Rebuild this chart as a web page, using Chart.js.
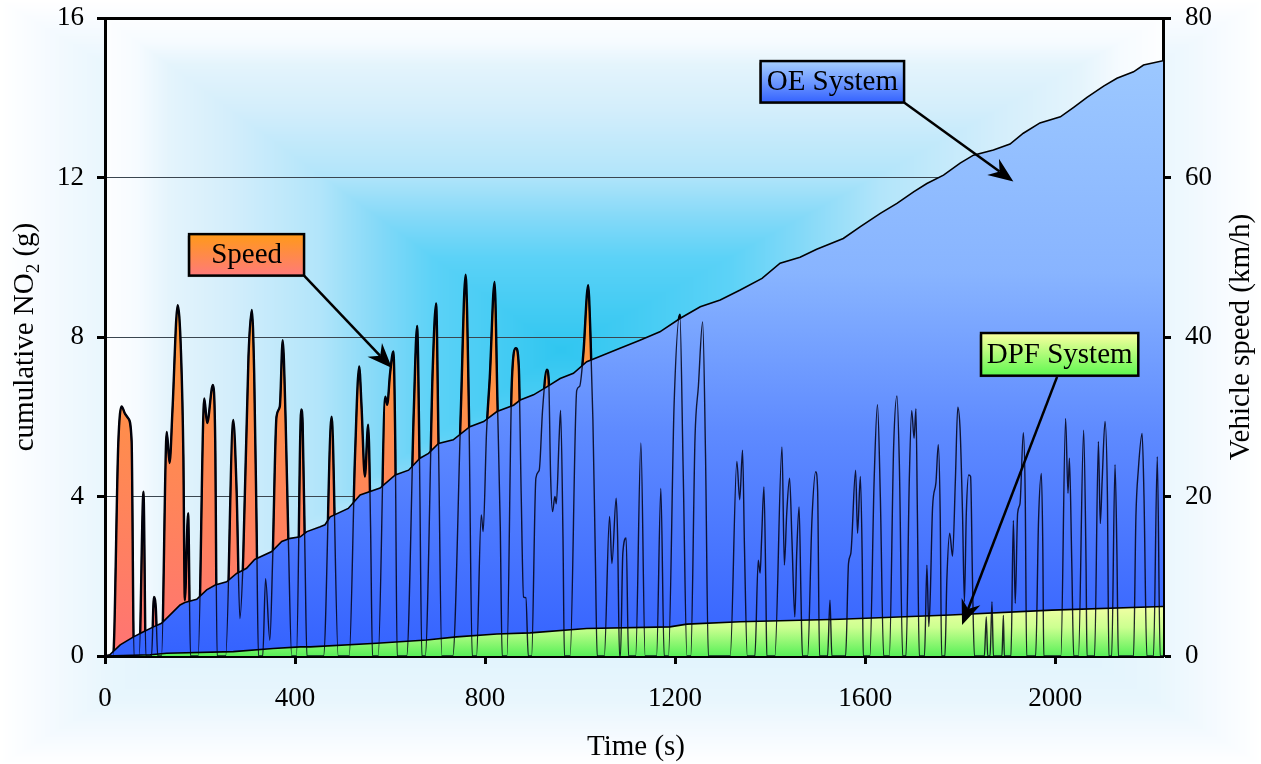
<!DOCTYPE html>
<html>
<head>
<meta charset="utf-8">
<title>Cumulative NO2</title>
<script src="https://cdn.jsdelivr.net/npm/chart.js@4"></script>
<style>
  html, body { margin: 0; padding: 0; background: #fff; }
  #wrap { width: 1261px; height: 764px; position: relative; }
</style>
</head>
<body>
<div id="wrap"><canvas id="no2Chart" width="1261" height="764"></canvas></div>
<script>
// axis ticks
const timeTicks = [0, 400, 800, 1200, 1600, 2000];
const no2Ticks = [0, 4, 8, 12, 16];
const speedTicks = [0, 20, 40, 60, 80];

// vehicle speed trace (s, km/h)
const speedTime = [0, 17, 28, 35, 42, 49, 56, 61, 72, 81, 86, 98, 103, 107, 111, 119, 130, 136, 142, 153, 160, 165, 168, 175, 180,
  196, 209, 215, 227, 232, 236, 254, 270, 277, 284, 291, 302, 309, 314, 319, 323, 332, 338, 347, 353, 361, 368, 374, 380, 386, 393,
  403, 413, 416, 421, 425, 460, 477, 491, 514, 526, 535, 540, 547, 554, 559, 563, 575, 590, 594, 600, 607, 611, 615,
  635, 650, 657, 662, 667, 674, 690, 697, 702, 709, 732, 749, 759, 766, 773, 782, 792, 796, 803, 810, 820, 826, 832, 836,
  846, 856, 865, 871, 876, 881, 886, 891, 898, 907, 914, 921, 930, 934, 938, 942, 947, 950, 956, 959, 964, 967,
  979, 993, 999, 1007, 1017, 1022, 1027, 1032, 1036, 1051, 1062, 1067, 1076, 1079, 1083, 1085, 1090, 1097, 1102,
  1117, 1128, 1137, 1161, 1170, 1177, 1186, 1198, 1210, 1217, 1225, 1233, 1242, 1249, 1258, 1264, 1270,
  1316, 1330, 1336, 1342, 1346, 1352, 1368, 1375, 1379, 1382, 1387, 1391, 1393,
  1410, 1425, 1430, 1435, 1441, 1446, 1452, 1456, 1461, 1465, 1468, 1479, 1488, 1496, 1500, 1504, 1521, 1526, 1530,
  1559, 1565, 1570, 1580, 1584, 1590, 1594, 1596, 1610, 1619, 1626, 1632, 1639, 1651, 1660, 1667, 1672, 1679,
  1686, 1693, 1698, 1703, 1707, 1710, 1714, 1725, 1730, 1734, 1737, 1742, 1749, 1754, 1758, 1761,
  1768, 1772, 1778, 1784, 1790, 1795, 1800, 1805, 1809, 1813, 1818, 1822, 1826, 1830,
  1851, 1855, 1858, 1863, 1867, 1870, 1888, 1891, 1893, 1907, 1912, 1916, 1921, 1926, 1933, 1937, 1940,
  1959, 1965, 1971, 1974, 1976, 2012, 2022, 2027, 2030, 2035, 2039, 2049, 2060, 2065, 2067,
  2083, 2091, 2095, 2099, 2105, 2110, 2113, 2119, 2126, 2130, 2133, 2165, 2170, 2175, 2183, 2187, 2193, 2207, 2215, 2221, 2227];
const speedKmh = [0, 0, 26.7, 31.3, 30.4, 29.8, 27, 0, 0, 20.6, 0, 0, 7.4, 6.0, 0, 0, 28.1, 24.2, 30.8, 44.0, 38, 25, 7.0, 17.9, 0,
  0, 32.3, 29.2, 34.0, 27, 0, 0, 29.6, 20.8, 4.7, 12.5, 37.5, 43.4, 35.5, 16.7, 0, 0, 9.7, 2.0, 12.4, 30, 31.3, 39.6, 30, 14.5, 0,
  0, 30.9, 29.2, 12.4, 0, 0, 30.0, 0, 0, 24.6, 36.3, 31.3, 22.5, 29.0, 16.2, 0, 0, 32.5, 31.5, 35.4, 38.2, 26.7, 0,
  0, 30.8, 41.4, 24.6, 0, 0, 36.3, 44.2, 26.7, 0, 0, 30.8, 47.8, 30.8, 0, 0, 17.7, 15.6, 27.9, 35.0, 46.9, 32.1, 16.2, 0,
  0, 33.8, 38.6, 36.3, 20.4, 7.4, 7.3, 0, 0, 22.3, 23.3, 30.8, 35.9, 34.6, 22.5, 18.1, 20, 19.1, 27.5, 30.8, 15, 0,
  0, 33.3, 33.8, 38, 46.5, 40, 29.6, 12.9, 0, 0, 17.5, 11.6, 19.8, 15, 0, 0, 12.9, 14.8, 0,
  0, 26.7, 0, 0, 21.0, 0, 0, 31.7, 42.8, 23.3, 0, 0, 27.5, 33.8, 41.9, 25.4, 0,
  0, 24.4, 19.6, 25.8, 13.7, 0, 0, 12.0, 10.4, 14.5, 21.2, 8.7, 0,
  0, 26.2, 11.4, 17.9, 22.3, 14.5, 4.9, 12.9, 18.7, 7.4, 0, 0, 17.0, 23.1, 20.8, 0, 0, 7.0, 0,
  0, 11.6, 12.9, 23.3, 15.4, 22.5, 11.6, 0, 0, 22.1, 31.5, 20, 0, 0, 26.2, 32.6, 24.2, 0,
  0, 22.1, 30.8, 27.3, 31.0, 17.9, 0, 0, 11.4, 3.7, 7.4, 18.7, 21.7, 26.5, 17.9, 0,
  0, 9.5, 15.4, 12.5, 22.1, 31.2, 28.3, 17.9, 6.8, 17.9, 22.7, 22.5, 9.5, 0,
  0, 4.9, 0, 0, 6.8, 0, 0, 5.1, 0, 0, 17.0, 6.6, 17.9, 19.1, 28, 20, 0,
  0, 17, 22.9, 13.7, 0, 0, 29.8, 20.4, 24.8, 11.6, 0, 0, 28.3, 11.6, 0,
  0, 26.9, 16.6, 22.1, 29.4, 20, 0, 0, 24, 12.9, 0, 0, 17.5, 23.3, 27.9, 20, 0, 0, 25, 0, 0];

// cumulative NO2, OE system (s, g)
const oeTime = [0, 10, 32, 60, 81, 102, 119, 137, 158, 168, 193, 214, 232, 256, 277, 298, 315, 351, 372, 390, 411, 425, 453, 463, 474,
  512, 537, 579, 611, 639, 663, 681, 702, 733, 768, 797, 825, 860, 874, 902, 930, 958, 986, 1014, 1049, 1084, 1126, 1168,
  1211, 1253, 1295, 1337, 1383, 1421, 1463, 1498, 1554, 1590, 1632, 1667, 1702, 1730, 1765, 1800, 1828, 1870, 1905, 1933,
  1968, 2011, 2039, 2067, 2102, 2130, 2165, 2186, 2227];
const oeNO2 = [0, 0.03, 0.28, 0.48, 0.61, 0.73, 0.82, 1.03, 1.28, 1.34, 1.42, 1.66, 1.78, 1.86, 2.07, 2.20, 2.42, 2.62, 2.87, 2.95, 2.99, 3.12, 3.24, 3.29, 3.49,
  3.70, 4.04, 4.21, 4.54, 4.66, 4.96, 5.08, 5.33, 5.42, 5.75, 5.88, 6.13, 6.29, 6.42, 6.55, 6.75, 6.96, 7.09, 7.38, 7.55, 7.72, 7.92, 8.13,
  8.47, 8.76, 8.93, 9.18, 9.47, 9.85, 10.0, 10.2, 10.47, 10.77, 11.10, 11.35, 11.64, 11.85, 12.06, 12.36, 12.56, 12.69, 12.84, 13.11,
  13.37, 13.52, 13.76, 14.01, 14.29, 14.49, 14.65, 14.82, 14.93];

// cumulative NO2, DPF system (s, g)
const dpfTime = [0, 95, 130, 270, 354, 411, 432, 572, 677, 740, 825, 895, 1014, 1189, 1225, 1337, 1547, 1779, 1993, 2227];
const dpfNO2 = [0, 0.03, 0.07, 0.11, 0.19, 0.23, 0.23, 0.32, 0.40, 0.48, 0.55, 0.58, 0.69, 0.73, 0.80, 0.86, 0.92, 1.03, 1.15, 1.24];

const serif = "'Liberation Serif', 'Times New Roman', serif";
const pairs = (xs, ys) => xs.map((x, i) => ({ x, y: ys[i] }));

// colour ramps: 0 = edge of the rectangle, 1 = its bright middle
const outerRamp = [[0, [255, 255, 255]], [0.06, [247, 251, 255]], [0.17, [232, 246, 253]], [0.5, [214, 240, 252]], [1, [190, 232, 250]]];
const innerRamp = [[0, [253, 254, 255]], [0.07, [246, 251, 255]], [0.14, [228, 244, 252]], [0.27, [212, 238, 251]], [0.47, [178, 229, 250]], [0.6, [132, 217, 248]], [0.72, [92, 210, 247]], [1, [48, 198, 240]]];

const rampColor = (stops, s) => {
  for (let k = 1; k < stops.length; k++) {
    if (s <= stops[k][0]) {
      const [s0, c0] = stops[k - 1], [s1, c1] = stops[k];
      const f = (s - s0) / (s1 - s0);
      return c0.map((v, j) => v + (c1[j] - v) * f);
    }
  }
  return stops[stops.length - 1][1];
};

// rectangular "from centre" shading
const pathShade = (x, y, l, t, r, b, cx, cy) => {
  const dx = x < cx ? (cx - x) / (cx - l) : (x - cx) / (r - cx);
  const dy = y < cy ? (cy - y) / (cy - t) : (y - cy) / (b - cy);
  return Math.max(0, 1 - Math.max(dx, dy));
};

const makeBackdrop = (w, h, area) => {
  const off = document.createElement('canvas');
  off.width = w; off.height = h;
  const c = off.getContext('2d');
  const img = c.createImageData(w, h);
  const icx = area.left + (area.right - area.left) * 0.43;
  const icy = area.top + (area.bottom - area.top) * 0.52;
  for (let y = 0; y < h; y++) {
    for (let x = 0; x < w; x++) {
      const inside = x >= area.left && x <= area.right && y >= area.top && y <= area.bottom;
      const col = inside
        ? rampColor(innerRamp, pathShade(x, y, area.left, area.top, area.right, area.bottom, icx, icy))
        : rampColor(outerRamp, pathShade(x, y, 0, 0, w, h, w / 2, h / 2));
      const p = (y * w + x) * 4;
      img.data[p] = col[0]; img.data[p + 1] = col[1]; img.data[p + 2] = col[2]; img.data[p + 3] = 255;
    }
  }
  c.putImageData(img, 0, 0);
  return off;
};

const vGradient = (ctx, y0, y1, stops) => {
  const g = ctx.createLinearGradient(0, y0, 0, y1);
  stops.forEach(([p, col]) => g.addColorStop(p, col));
  return g;
};

const areaFill = (stops) => (context) => {
  const { chart } = context;
  const a = chart.chartArea;
  if (!a) return 'rgba(0,0,0,0)';
  return vGradient(chart.ctx, a.top, a.bottom, stops);
};

let backdrop;
const backdropPlugin = {
  id: 'backdrop',
  beforeDraw(chart) {
    if (!backdrop) backdrop = makeBackdrop(chart.width, chart.height, chart.chartArea);
    chart.ctx.drawImage(backdrop, 0, 0);
  }
};

// call-out boxes with arrows, placed in axis units
const callouts = [
  { text: 'OE System', box: [1380, 14.92, 1682, 13.88], from: [1682, 13.88], to: [1912, 11.9], colors: ['#a8d0ff', '#3462ff'] },
  { text: 'Speed', box: [177, 10.58, 419, 9.54], from: [419, 9.54], to: [604, 7.22], colors: ['#ff9a18', '#ff7a7a'] },
  { text: 'DPF System', box: [1844, 8.10, 2175, 7.03], from: [2004, 7.0], to: [1804, 0.78], colors: ['#fbffa0', '#5ef850'] }
];

const drawArrow = (ctx, x0, y0, x1, y1) => {
  const ang = Math.atan2(y1 - y0, x1 - x0);
  const len = 25, half = 10, notch = 17;
  const bx = x1 - Math.cos(ang) * notch, by = y1 - Math.sin(ang) * notch;
  ctx.beginPath();
  ctx.moveTo(x0, y0);
  ctx.lineTo(bx, by);
  ctx.lineWidth = 2.5;
  ctx.strokeStyle = '#000';
  ctx.stroke();
  const cx = x1 - Math.cos(ang) * len, cy = y1 - Math.sin(ang) * len;
  ctx.beginPath();
  ctx.moveTo(x1, y1);
  ctx.lineTo(cx - Math.sin(ang) * half, cy + Math.cos(ang) * half);
  ctx.lineTo(bx, by);
  ctx.lineTo(cx + Math.sin(ang) * half, cy - Math.cos(ang) * half);
  ctx.closePath();
  ctx.fillStyle = '#000';
  ctx.fill();
};

const calloutPlugin = {
  id: 'callouts',
  afterDraw(chart) {
    const { ctx, scales } = chart;
    const px = (t) => scales.x.getPixelForValue(t);
    const py = (v) => scales.y.getPixelForValue(v);
    ctx.save();
    callouts.forEach((c) => {
      drawArrow(ctx, px(c.from[0]), py(c.from[1]), px(c.to[0]), py(c.to[1]));
      const x0 = px(c.box[0]), y0 = py(c.box[1]), x1 = px(c.box[2]), y1 = py(c.box[3]);
      ctx.fillStyle = 'rgba(90,90,90,0.5)';
      ctx.fillRect(x0 - 1.5, y0 + 1.5, x1 - x0, y1 - y0);
      ctx.fillStyle = vGradient(ctx, y0, y1, [[0, c.colors[0]], [1, c.colors[1]]]);
      ctx.fillRect(x0, y0, x1 - x0, y1 - y0);
      ctx.lineWidth = 2.5;
      ctx.strokeStyle = '#000';
      ctx.strokeRect(x0, y0, x1 - x0, y1 - y0);
      ctx.fillStyle = '#000';
      ctx.font = `29px ${serif}`;
      ctx.textAlign = 'center';
      ctx.textBaseline = 'middle';
      ctx.fillText(c.text, (x0 + x1) / 2, (y0 + y1) / 2 + 1);
    });
    ctx.restore();
  }
};

const titlePlugin = {
  id: 'titles',
  afterDraw(chart) {
    const { ctx, chartArea } = chart;
    const mid = (chartArea.top + chartArea.bottom) / 2;
    const big = `29px ${serif}`, small = `19px ${serif}`;
    ctx.save();
    ctx.fillStyle = '#000';
    ctx.textBaseline = 'alphabetic';
    ctx.textAlign = 'left';
    // left title with subscript
    ctx.save();
    ctx.translate(33, mid);
    ctx.rotate(-Math.PI / 2);
    ctx.font = big;
    const w1 = ctx.measureText('cumulative NO').width;
    const w3 = ctx.measureText(' (g)').width;
    ctx.font = small;
    const w2 = ctx.measureText('2').width;
    let x = -(w1 + w2 + w3) / 2;
    ctx.font = big;
    ctx.fillText('cumulative NO', x, 0);
    x += w1;
    ctx.font = small;
    ctx.fillText('2', x, 6);
    x += w2;
    ctx.font = big;
    ctx.fillText(' (g)', x, 0);
    ctx.restore();
    // right title
    ctx.save();
    ctx.translate(1249, mid);
    ctx.rotate(-Math.PI / 2);
    ctx.font = big;
    ctx.textAlign = 'center';
    ctx.fillText('Vehicle speed (km/h)', 0, 0);
    ctx.restore();
    // bottom title
    ctx.font = big;
    ctx.textAlign = 'center';
    ctx.fillText('Time (s)', (chartArea.left + chartArea.right) / 2 + 2, 755);
    ctx.restore();
  }
};

const tickFont = { family: serif, size: 27 };
const noPadding = (scale) => {
  scale.paddingTop = 0; scale.paddingBottom = 0; scale.paddingLeft = 0; scale.paddingRight = 0;
};

new Chart(document.getElementById('no2Chart'), {
  type: 'line',
  data: {
    datasets: [
      {
        label: 'Speed line',
        data: pairs(speedTime, speedKmh),
        yAxisID: 'y2',
        order: 0,
        fill: false,
        borderColor: 'rgba(0,0,20,0.85)',
        borderWidth: 1.4,
        cubicInterpolationMode: 'monotone'
      },
      {
        label: 'DPF System',
        data: pairs(dpfTime, dpfNO2),
        yAxisID: 'y',
        order: 1,
        fill: 'origin',
        borderColor: '#000',
        borderWidth: 1.6,
        backgroundColor: (context) => {
          const { chart } = context;
          const a = chart.chartArea;
          if (!a) return 'rgba(0,0,0,0)';
          const top = chart.scales.y.getPixelForValue(1.3);
          return vGradient(chart.ctx, top, a.bottom, [[0, '#f6ffa6'], [0.45, '#ccff90'], [1, '#58f058']]);
        }
      },
      {
        label: 'OE System',
        data: pairs(oeTime, oeNO2),
        yAxisID: 'y',
        order: 2,
        fill: 'origin',
        borderColor: '#000',
        borderWidth: 1.6,
        backgroundColor: areaFill([[0, '#a0ccff'], [0.4, '#88b4ff'], [0.65, '#5e8aff'], [1, '#3462ff']])
      },
      {
        label: 'Speed',
        data: pairs(speedTime, speedKmh),
        yAxisID: 'y2',
        order: 3,
        fill: 'origin',
        borderColor: '#000',
        borderWidth: 2.4,
        cubicInterpolationMode: 'monotone',
        backgroundColor: areaFill([[0, '#ffa41c'], [0.42, '#ff9c34'], [1, '#ff7474']])
      }
    ]
  },
  options: {
    responsive: false,
    animation: false,
    devicePixelRatio: 1,
    layout: { padding: { top: 18, left: 0, right: 0, bottom: 0 } },
    elements: { point: { radius: 0, hoverRadius: 0 }, line: { tension: 0 } },
    plugins: { legend: { display: false }, tooltip: { enabled: false } },
    scales: {
      x: {
        type: 'linear',
        min: 0,
        max: 2227,
        afterBuildTicks: (scale) => { scale.ticks = timeTicks.map((v) => ({ value: v })); },
        afterFit: (scale) => { scale.height = 108; noPadding(scale); },
        ticks: { font: tickFont, color: '#000', padding: 19, maxRotation: 0, autoSkip: false, callback: (v) => String(v) },
        grid: { drawOnChartArea: false, tickLength: 8, tickColor: '#000', tickWidth: 3 },
        border: { color: '#000', width: 3 }
      },
      y: {
        position: 'left',
        min: 0,
        max: 16,
        afterBuildTicks: (scale) => { scale.ticks = no2Ticks.map((v) => ({ value: v })); },
        afterFit: (scale) => { scale.width = 105; noPadding(scale); },
        ticks: { font: tickFont, color: '#000', padding: 13, callback: (v) => String(v) },
        grid: {
          color: (c) => (c.tick.value === 16 ? '#000' : (c.tick.value === 0 ? 'rgba(0,0,0,0)' : '#3a4650')),
          lineWidth: (c) => (c.tick.value === 16 ? 3 : 1),
          tickLength: 8,
          tickColor: '#000',
          tickWidth: 3
        },
        border: { color: '#000', width: 3 }
      },
      y2: {
        position: 'right',
        min: 0,
        max: 80,
        afterBuildTicks: (scale) => { scale.ticks = speedTicks.map((v) => ({ value: v })); },
        afterFit: (scale) => { scale.width = 98; noPadding(scale); },
        ticks: { font: tickFont, color: '#000', padding: 14, callback: (v) => String(v) },
        grid: { drawOnChartArea: false, tickLength: 8, tickColor: '#000', tickWidth: 3 },
        border: { color: '#000', width: 3 }
      }
    }
  },
  plugins: [backdropPlugin, calloutPlugin, titlePlugin]
});
</script>
</body>
</html>
